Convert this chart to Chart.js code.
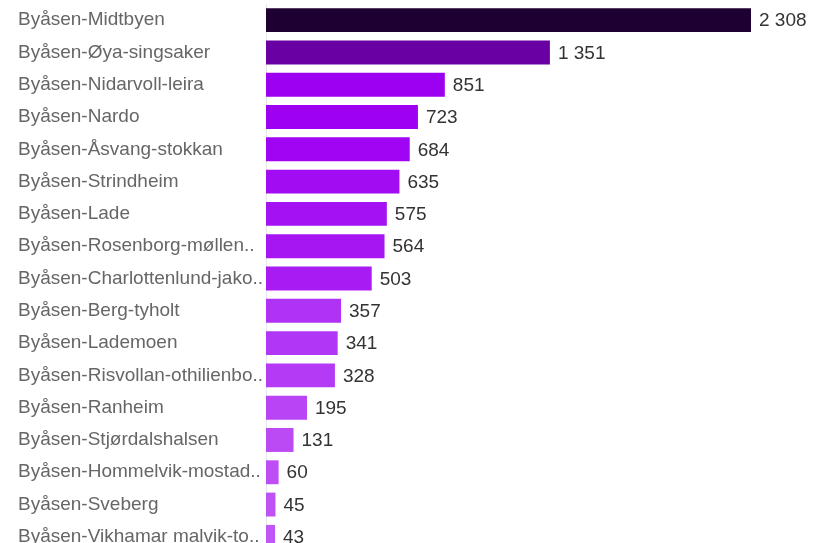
<!DOCTYPE html>
<html>
<head>
<meta charset="utf-8">
<script src="https://cdn.jsdelivr.net/npm/chart.js@4/dist/chart.umd.min.js"></script>
<style>
  html, body { margin: 0; padding: 0; background: #fff; overflow: hidden; }
  canvas { display: block; }
</style>
</head>
<body>
<canvas id="chart" width="813" height="556"></canvas>
<script>
// Labels as shown (truncated the same way as the reference)
const areas = [
    'Byåsen-Midtbyen',
    'Byåsen-Øya-singsaker',
    'Byåsen-Nidarvoll-leira',
    'Byåsen-Nardo',
    'Byåsen-Åsvang-stokkan',
    'Byåsen-Strindheim',
    'Byåsen-Lade',
    'Byåsen-Rosenborg-møllen..',
    'Byåsen-Charlottenlund-jako..',
    'Byåsen-Berg-tyholt',
    'Byåsen-Lademoen',
    'Byåsen-Risvollan-othilienbo..',
    'Byåsen-Ranheim',
    'Byåsen-Stjørdalshalsen',
    'Byåsen-Hommelvik-mostad..',
    'Byåsen-Sveberg',
    'Byåsen-Vikhamar malvik-to..'
];
const counts = [2308, 1351, 851, 723, 684, 635, 575, 564, 503, 357, 341, 328, 195, 131, 60, 45, 43];
const barColors = [
    '#1e0032', '#6800a3', '#9b00f0', '#9e00f2', '#a005f3', '#a20cf3',
    '#a412f3', '#a616f3', '#a81cf3', '#b032f5', '#b236f5', '#b43af5',
    '#b944f5', '#bb4af5', '#bd4ef5', '#bf52f5', '#c056f5'
];

const FONT = '"Liberation Sans", Arial, sans-serif';

// format numbers with space as thousands separator, like "2 308"
function formatNumber(v) {
    return String(v).replace(/\B(?=(\d{3})+(?!\d))/g, ' ');
}

// draw value at the end of each bar
const valueLabels = {
    id: 'valueLabels',
    afterDatasetsDraw(chart) {
        const ctx = chart.ctx;
        const meta = chart.getDatasetMeta(0);
        ctx.save();
        ctx.font = '19px ' + FONT;
        ctx.fillStyle = '#333';
        ctx.textAlign = 'left';
        ctx.textBaseline = 'middle';
        meta.data.forEach((bar, i) => {
            ctx.fillText(formatNumber(counts[i]), bar.x + 8, bar.y + 1);
        });
        ctx.restore();
    }
};

const canvas = document.getElementById('chart');
new Chart(canvas.getContext('2d'), {
    type: 'bar',
    data: {
        labels: areas,
        datasets: [{
            data: counts,
            backgroundColor: barColors,
            borderWidth: 0,
            barPercentage: 0.74,
            categoryPercentage: 1.0
        }]
    },
    options: {
        indexAxis: 'y',
        responsive: false,
        animation: false,
        layout: {
            padding: { left: 18, right: 62, top: 4, bottom: 3 }
        },
        scales: {
            x: {
                display: false,
                min: 0,
                max: 2308
            },
            y: {
                grid: { display: false, drawTicks: false },
                border: { display: true, color: '#e6e6e6' },
                afterFit(scale) {
                    scale.width = 248;
                    scale.paddingTop = 0;
                    scale.paddingBottom = 0;
                },
                ticks: {
                    crossAlign: 'far',
                    padding: 4,
                    color: '#666',
                    font: { family: FONT, size: 19 }
                }
            }
        },
        plugins: {
            legend: { display: false },
            tooltip: { enabled: false }
        }
    },
    plugins: [valueLabels]
});
</script>
</body>
</html>
